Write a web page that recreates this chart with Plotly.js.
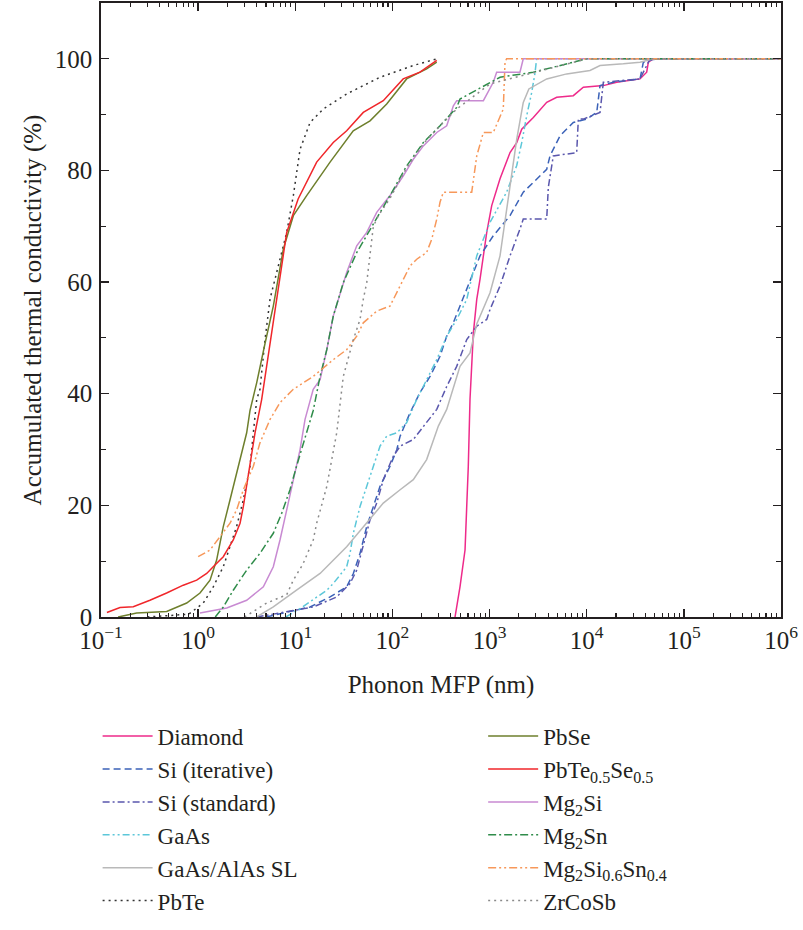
<!DOCTYPE html>
<html><head><meta charset="utf-8">
<script src="https://cdn.plot.ly/plotly-3.0.1.min.js"></script>
<style>html,body{margin:0;padding:0;background:#fff}</style>
</head><body><div id="chart" style="width:803px;height:930px"></div>
<script>
// ---- data (x: phonon MFP in nm, y: accumulated thermal conductivity in %) ----
const diamondX = [441, 496, 559, 604, 629, 681, 738, 797, 935, 1052, 1281, 1624, 1904, 2143, 2822, 3873, 4909, 7278, 9226, 14830, 20360, 35380, 41450, 43090, 48500, 1e6];
const diamondY = [0, 5.4, 12, 27, 39, 50.9, 56.9, 60.5, 68.9, 73.7, 78.5, 83.2, 85, 87.4, 89.5, 92.2, 93.1, 93.4, 94.9, 95.2, 95.8, 96.4, 97.6, 99.4, 100, 100];

const siIterX = [5, 14.2, 22.8, 33.8, 39.6, 46.4, 54.4, 63.6, 74.5, 94.4, 111, 120, 152, 192, 244, 309, 362, 423, 496, 629, 797, 1092, 1624, 2223, 3055, 3873, 4188, 5309, 7278, 10000, 12680, 13710, 18790, 25800, 35380, 38280, 48500, 1e6];
const siIterY = [0, 1.8, 3.6, 5.4, 7.8, 11.4, 16.2, 19.8, 23.4, 27, 30, 32.4, 36.6, 40.2, 43.1, 46.7, 50.3, 52.7, 55.7, 60.5, 64.7, 68.3, 71.9, 76.1, 78.5, 80.2, 82.6, 86.2, 88.6, 89.2, 90.4, 95.2, 95.8, 96.1, 96.4, 99.4, 99.9, 100];

const siStdX = [4, 15.3, 26.7, 36.6, 42.9, 50.1, 58.8, 68.9, 80.5, 102, 120, 164, 225, 286, 362, 459, 582, 738, 935, 1011, 1281, 1624, 2055, 2223, 3873, 4027, 4529, 7886, 8200, 9226, 13710, 14830, 35380, 41450, 44870, 1e6];
const siStdY = [0, 1.8, 3.6, 6, 8.4, 12.6, 17.4, 20.4, 24.6, 28.8, 30.6, 31.8, 34.8, 37.2, 41.3, 44.9, 49.7, 52.1, 53.3, 55.1, 59.3, 64.7, 69.5, 71.3, 71.3, 77, 82.6, 83.2, 89.2, 89.2, 90.4, 95.8, 96.4, 98.8, 100, 100];

const gaasX = [8, 11.2, 21.1, 24.6, 33.8, 36.6, 39.6, 46.4, 58.8, 74.5, 87.3, 111, 140, 178, 225, 286, 362, 459, 582, 738, 1011, 1498, 1904, 2143, 2411, 2716, 2938, 3050, 1e6];
const gaasY = [0, 1.5, 4.8, 6, 9, 11.4, 15, 19.8, 25.2, 30.6, 32.4, 33, 34.8, 39, 42.5, 46.1, 50.3, 53.3, 56.9, 64.7, 70.7, 76.1, 80.9, 85, 89.8, 94, 97.5, 100, 100];

const slX = [4, 5.94, 10.3, 18, 33.8, 54.4, 80.5, 120, 164, 225, 297, 362, 496, 629, 738, 1011, 1281, 1624, 1904, 2223, 2538, 3873, 6226, 10810, 13710, 23820, 35380, 48500, 1e6];
const slY = [0, 1.8, 4.8, 7.8, 12.6, 16.8, 20.4, 22.8, 24.6, 28.2, 34.2, 37.2, 44.9, 47.3, 52.5, 58.1, 64.7, 77.2, 85.6, 92.2, 94.6, 96.4, 97.3, 97.9, 98.8, 99.1, 99.4, 100, 100];

const pbteX = [0.3, 0.8, 1.13, 1.43, 1.815, 2.13, 2.49, 2.92, 3.42, 3.70, 4.01, 4.33, 4.88, 5.50, 8.16, 9.55, 11.2, 14.2, 19.4, 33.8, 74.5, 164, 286];
const pbteY = [0, 0.5, 2.5, 5.4, 9, 12.6, 16.2, 21, 27, 33, 39, 40.8, 49.7, 57, 68.9, 75.5, 83.8, 88.6, 91, 93.7, 96.7, 98.8, 100];

const pbseX = [0.15, 0.233, 0.474, 0.762, 1.045, 1.325, 1.55, 1.815, 2.13, 2.49, 2.92, 3.16, 3.42, 4.01, 4.88, 5.94, 7.53, 9.55, 13.1, 22.8, 39.5, 58.8, 87.3, 140, 225, 286];
const pbseY = [0, 0.7, 1, 2.5, 4.3, 6.6, 10.2, 16.2, 21, 25.8, 31, 33, 37, 42, 49, 55.7, 65.9, 71.9, 75.5, 81.5, 87.1, 88.9, 91.9, 96.4, 98.2, 99.4];

const pbteseX = [0.115, 0.157, 0.215, 0.319, 0.474, 0.703, 0.966, 1.225, 1.43, 1.815, 2.30, 2.70, 2.92, 3.42, 3.85, 4.51, 4.88, 5.71, 6.44, 8.16, 10.7, 16.6, 24.6, 33.8, 50.1, 80.5, 129, 192, 286];
const pbteseY = [0.8, 1.7, 1.85, 3, 4.3, 5.7, 6.6, 7.8, 9, 10.8, 13.8, 16.8, 19.8, 27, 33, 39, 43, 51, 57, 68.9, 74.9, 81.5, 85, 87.1, 90.4, 92.5, 96.4, 97.6, 99.7];

const mg2siX = [1.045, 1.97, 3.16, 4.69, 5.94, 6.96, 8.16, 9.54, 11.2, 12.6, 14.2, 15.3, 18.0, 21.1, 24.6, 28.9, 33.8, 42.9, 54.4, 68.9, 94.4, 129, 164, 208, 286, 362, 424, 459, 863, 1092, 1183, 2055, 2223, 1e6];
const mg2siY = [0.7, 1.6, 3, 5.4, 9, 13.8, 19.2, 24.6, 30, 35.4, 39, 40.8, 42.5, 47.9, 53.9, 58, 61.7, 66.5, 68.9, 72.5, 75.5, 79, 82, 84.4, 86.8, 88, 91.6, 92.5, 92.5, 95.8, 97.6, 97.6, 100, 100];

const mg2snX = [1.5, 1.815, 2.30, 3.16, 4.33, 5.94, 7.25, 8.82, 10.3, 12.1, 14.2, 15.3, 18.0, 21.1, 24.6, 31.2, 42.9, 68.9, 94.4, 140, 208, 309, 459, 496, 1011, 1281, 2822, 10000, 1e6];
const mg2snY = [0, 1.8, 4.8, 8.4, 11.4, 15, 18.6, 22.8, 27, 31.2, 35, 37, 43.1, 47.9, 53.9, 59.9, 65.3, 71.3, 75.5, 80.8, 85, 88, 91.3, 92.8, 95.8, 96.7, 97.6, 100, 100];

const mgsisnX = [1.0, 1.325, 2.13, 2.49, 2.92, 3.70, 4.33, 5.50, 6.96, 9.54, 15.3, 24.6, 33.8, 42.9, 50.1, 68.9, 94.4, 120, 152, 178, 225, 254, 286, 309, 334, 655, 738, 863, 1092, 1384, 1442, 1498, 1e6];
const mgsisnY = [10.8, 12, 16.8, 19.2, 22.8, 27, 31.2, 35.4, 38.4, 40.8, 43.1, 46.1, 47.9, 50.3, 52.7, 54.8, 55.7, 59.3, 62.9, 64.1, 65.3, 67.7, 71.3, 74.3, 76.1, 76.1, 82.6, 86.8, 86.8, 91, 99.4, 100, 100];

const zrcosbX = [3, 5.08, 8.16, 9.54, 12, 15.3, 16.6, 21.1, 26.7, 31.2, 39.6, 46.4, 50.1, 54.4, 63.6, 71.6, 94.4, 140, 208, 309, 459, 1011, 2822, 10000, 1e6];
const zrcosbY = [0, 2.5, 4, 6.6, 9.5, 13.8, 16.8, 23.4, 33, 43.1, 49.7, 53.3, 56.9, 59.9, 70, 71.9, 75, 80.5, 84.8, 88, 91, 95.5, 97.5, 100, 100];

const xTickVals = [0.1, 1, 10, 100, 1000, 10000, 100000, 1000000];
const xTickText = ['10<sup>\u22121</sup>', '10<sup>0</sup>', '10<sup>1</sup>', '10<sup>2</sup>', '10<sup>3</sup>', '10<sup>4</sup>', '10<sup>5</sup>', '10<sup>6</sup>'];
const yTickVals = [0, 20, 40, 60, 80, 100];
const yTickText = ['0', '20', '40', '60', '80', '100'];

// ---- styling ----
const FAMILY = 'Liberation Serif';
const INK = '#231f20';
function font(size) { return {family: FAMILY, size: size, color: INK}; }

const series = [
  {name: 'Diamond', x: diamondX, y: diamondY, color: '#ee2a8a', dash: 'solid', legend: 'legend'},
  {name: 'Si (iterative)', x: siIterX, y: siIterY, color: '#3b62b8', dash: '7px,4px', legend: 'legend'},
  {name: 'Si (standard)', x: siStdX, y: siStdY, color: '#5a57ad', dash: '7px,3px,2px,3px', legend: 'legend'},
  {name: 'GaAs', x: gaasX, y: gaasY, color: '#5cc7d9', dash: '7px,3px,2px,3px,2px,3px', legend: 'legend'},
  {name: 'GaAs/AlAs SL', x: slX, y: slY, color: '#b9b9b9', dash: 'solid', legend: 'legend'},
  {name: 'PbTe', x: pbteX, y: pbteY, color: '#333333', dash: '2px,4px', legend: 'legend'},
  {name: 'PbSe', x: pbseX, y: pbseY, color: '#6e7f2c', dash: 'solid', legend: 'legend2'},
  {name: 'PbTe<sub>0.5</sub>Se<sub>0.5</sub>', x: pbteseX, y: pbteseY, color: '#f0262a', dash: 'solid', legend: 'legend2'},
  {name: 'Mg<sub>2</sub>Si', x: mg2siX, y: mg2siY, color: '#c88ad2', dash: 'solid', legend: 'legend2'},
  {name: 'Mg<sub>2</sub>Sn', x: mg2snX, y: mg2snY, color: '#2f8c4a', dash: '8px,3px,2px,3px', legend: 'legend2'},
  {name: 'Mg<sub>2</sub>Si<sub>0.6</sub>Sn<sub>0.4</sub>', x: mgsisnX, y: mgsisnY, color: '#f7985a', dash: '8px,3px,2px,3px,2px,3px', legend: 'legend2'},
  {name: 'ZrCoSb', x: zrcosbX, y: zrcosbY, color: '#8a8a8a', dash: '2px,4px', legend: 'legend2'}
];

const traces = series.map((s) => ({
  type: 'scatter', mode: 'lines', name: s.name, x: s.x, y: s.y,
  line: {color: s.color, width: 1.5, dash: s.dash},
  legend: s.legend, showlegend: true
}));

const minorX = [];
for (let d = -1; d < 6; d++) {
  for (let m = 2; m <= 9; m++) minorX.push(m * Math.pow(10, d));
}

function legendBox(x) {
  return {
    x: x, y: -0.159, xanchor: 'left', yanchor: 'top', orientation: 'v',
    font: font(23), itemwidth: 50,
    bgcolor: 'rgba(0,0,0,0)', borderwidth: 0
  };
}

const layout = {
  width: 803, height: 930,
  margin: {l: 101, r: 22, t: 3, b: 313},
  paper_bgcolor: '#ffffff', plot_bgcolor: '#ffffff',
  font: font(24),
  showlegend: true,
  xaxis: {
    type: 'log', range: [-1, 6],
    tickmode: 'array', tickvals: xTickVals, ticktext: xTickText,
    ticks: 'inside', ticklen: 8, tickwidth: 1.3, tickcolor: INK,
    showline: true, linecolor: INK, linewidth: 1.8, mirror: 'ticks',
    showgrid: false, zeroline: false, ticklabelstandoff: 0,
    minor: {tickmode: 'array', tickvals: minorX, ticks: 'inside', ticklen: 4, tickwidth: 1.1, tickcolor: INK, showgrid: false},
    tickfont: font(25),
    title: {text: 'Phonon MFP (nm)', font: font(25), standoff: 23}
  },
  yaxis: {
    range: [0, 110],
    tickmode: 'array', tickvals: yTickVals, ticktext: yTickText,
    ticks: 'inside', ticklen: 8, tickwidth: 1.3, tickcolor: INK,
    showline: true, linecolor: INK, linewidth: 1.8, mirror: 'ticks',
    showgrid: false, zeroline: false, ticklabelstandoff: 2,
    minor: {tickmode: 'array', tickvals: [10, 30, 50, 70, 90], ticks: 'inside', ticklen: 5, tickwidth: 1.1, tickcolor: INK, showgrid: false},
    tickfont: font(25),
    title: {text: 'Accumulated thermal conductivity (%)', font: font(25), standoff: 6}
  },
  legend: legendBox(-0.005),
  legend2: legendBox(0.562)
};

Plotly.newPlot('chart', traces, layout, {displayModeBar: false, staticPlot: true});
</script></body></html>
